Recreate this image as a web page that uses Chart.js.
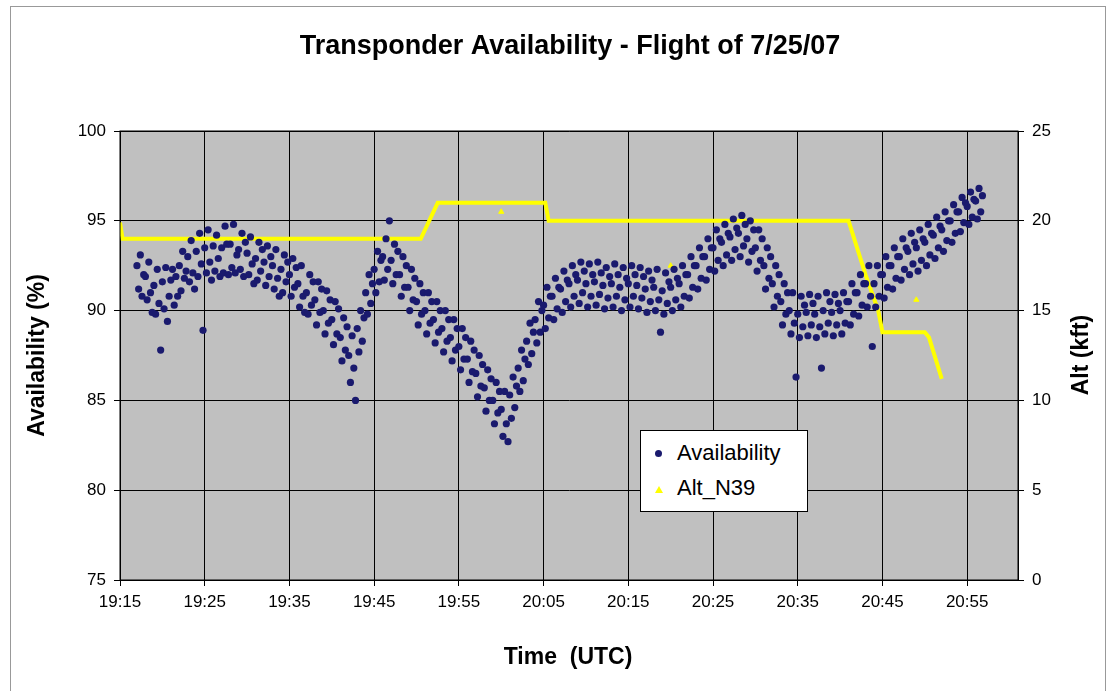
<!DOCTYPE html>
<html lang="en">
<head>
<meta charset="UTF-8">
<title>Transponder Availability</title>
<script src="https://cdn.jsdelivr.net/npm/chart.js@4.4.4/dist/chart.umd.min.js"></script>
<style>
  body { margin: 0; background: #fff; }
  .frame { position: relative; width: 1117px; height: 691px; }
  .frame:before { content: ''; position: absolute; left: 10px; top: 6px; right: 11px; bottom: 0; border: 1px solid #999; border-bottom: none; pointer-events: none; }
  .legend { position: absolute; left: 640px; top: 430px; width: 168px; height: 82px; background: #fff; border: 1px solid #000; box-sizing: border-box;
            font: 22px "Liberation Sans", Arial, sans-serif; color: #000; }
  .legend div { position: absolute; left: 36px; }
  .legend span { position: absolute; }
</style>
</head>
<body>
<div class="frame">
  <canvas id="chart" width="1117" height="691"></canvas>
  <div class="legend">
    <span style="left:14px;top:19px;width:7px;height:7px;border-radius:50%;background:#1a1a6e"></span>
    <div style="top:9px">Availability</div>
    <span style="left:14px;top:55px;width:0;height:0;border-left:4px solid transparent;border-right:4px solid transparent;border-bottom:7px solid #ffff00"></span>
    <div style="top:44px">Alt_N39</div>
  </div>
</div>
<script>
// minutes after 19:15 UTC
const TICK_LABELS = ['19:15', '19:25', '19:35', '19:45', '19:55', '20:05', '20:15', '20:25', '20:35', '20:45', '20:55'];

// availability samples: one row per minute, five samples within the minute
const availMinutes = [];
for (let m = 2; m <= 102; m++) availMinutes.push(m);
const availRows = [
  [92.5, 91.2, 93.1, 90.8, 92.0], [91.9, 90.6, 92.7, 91.0, 89.9], [91.4, 89.8, 92.3, 90.4, 87.8],
  [91.6, 90.1, 92.4, 89.4, 90.8], [91.7, 92.3, 90.3, 91.9, 90.8], [92.5, 91.1, 93.3, 91.8, 92.2],
  [93.0, 91.6, 93.9, 92.1, 91.2], [93.3, 91.9, 94.3, 92.6, 88.9], [93.5, 92.1, 94.5, 92.7, 91.7],
  [93.6, 92.2, 94.2, 92.9, 91.9], [93.5, 92.1, 94.7, 93.7, 92.0], [93.7, 92.4, 94.8, 92.1, 93.1],
  [93.4, 92.3, 94.3, 91.9, 93.8], [93.2, 92.0, 94.1, 92.6, 91.5], [92.9, 91.7, 93.8, 92.2, 93.4],
  [92.7, 91.4, 93.6, 91.9, 93.0], [92.5, 91.2, 93.4, 91.8, 90.8], [92.3, 91.0, 93.1, 91.6, 92.7],
  [92.0, 90.8, 92.9, 91.3, 92.4], [91.5, 90.2, 92.5, 90.8, 89.9], [91.0, 89.8, 92.0, 90.3, 91.6],
  [90.6, 89.2, 91.6, 89.9, 91.2], [90.0, 88.7, 91.1, 89.3, 90.6], [89.5, 88.1, 90.5, 88.7, 90.1],
  [88.5, 87.2, 89.6, 87.8, 89.1], [87.5, 86.0, 88.6, 86.8, 85.0], [89.0, 87.7, 90.0, 88.3, 89.6],
  [91.0, 89.8, 92.0, 90.4, 91.5], [92.3, 91.0, 93.3, 91.6, 92.8], [93.0, 91.7, 94.0, 92.3, 95.0],
  [92.8, 91.5, 93.7, 92.0, 93.3], [92.0, 90.8, 93.0, 91.3, 92.5], [91.3, 90.0, 92.3, 90.6, 91.8],
  [90.5, 89.2, 91.5, 89.8, 91.0], [90.0, 88.7, 91.0, 89.3, 90.5], [89.5, 88.2, 90.5, 88.8, 90.0],
  [89.0, 87.7, 90.0, 88.3, 89.5], [88.5, 87.2, 89.5, 87.8, 89.0], [88.0, 86.7, 89.0, 87.3, 88.5],
  [87.3, 86.0, 88.3, 86.6, 87.8], [86.5, 85.2, 87.5, 85.8, 87.0], [85.7, 84.4, 86.7, 85.0, 86.2],
  [85.0, 83.7, 86.0, 84.3, 85.5], [84.5, 83.0, 85.5, 83.7, 82.7], [85.3, 84.0, 86.3, 84.6, 85.8],
  [86.8, 85.5, 87.8, 86.1, 87.3], [88.3, 87.0, 89.3, 87.6, 88.8], [89.5, 88.2, 90.5, 88.8, 90.0],
  [90.3, 89.0, 91.3, 89.6, 90.8], [90.8, 89.5, 91.8, 90.1, 91.3], [91.2, 89.9, 92.2, 90.5, 91.7],
  [91.5, 90.2, 92.5, 90.8, 92.0], [91.7, 90.4, 92.7, 91.0, 92.2], [91.5, 90.2, 92.6, 90.8, 92.0],
  [91.6, 90.3, 92.7, 90.9, 92.1], [91.4, 90.1, 92.4, 90.7, 91.9], [91.5, 90.2, 92.6, 90.8, 92.0],
  [91.3, 90.0, 92.4, 90.6, 91.8], [91.5, 90.2, 92.5, 90.8, 92.0], [91.4, 90.1, 92.4, 90.7, 91.9],
  [91.2, 89.9, 92.2, 90.5, 91.7], [91.3, 90.0, 92.3, 90.6, 88.8], [91.1, 89.8, 92.1, 90.4, 91.6],
  [91.3, 90.0, 92.3, 90.6, 91.8], [91.5, 90.2, 92.5, 90.8, 92.0], [92.0, 90.7, 93.0, 91.3, 92.5],
  [92.5, 91.2, 93.5, 91.8, 93.0], [93.0, 91.7, 94.0, 92.3, 93.5], [93.5, 92.2, 94.5, 92.8, 94.0],
  [93.8, 92.5, 94.8, 93.1, 94.3], [94.1, 92.8, 95.1, 93.4, 94.6], [94.3, 93.0, 95.3, 93.6, 94.8],
  [94.0, 92.7, 95.0, 93.3, 94.5], [93.5, 92.2, 94.5, 92.8, 94.0], [92.5, 91.2, 93.5, 91.8, 93.0],
  [91.5, 90.2, 92.5, 90.8, 92.0], [90.5, 89.2, 91.5, 89.8, 91.0], [90.0, 88.7, 91.0, 89.3, 86.3],
  [89.8, 88.5, 90.8, 89.1, 90.3], [89.9, 88.6, 90.9, 89.2, 90.4], [89.8, 88.5, 90.8, 89.1, 86.8],
  [90.0, 88.7, 91.0, 89.3, 90.5], [89.9, 88.6, 90.9, 89.2, 90.4], [90.0, 88.7, 91.0, 89.3, 90.5],
  [90.5, 89.2, 91.5, 89.8, 91.0], [91.0, 89.7, 92.0, 90.3, 91.5], [91.5, 90.2, 92.5, 90.8, 88.0],
  [91.5, 90.2, 92.5, 90.8, 92.0], [92.0, 90.7, 93.0, 91.3, 92.5], [92.5, 91.2, 93.5, 91.8, 93.0],
  [93.0, 91.7, 94.0, 92.3, 93.5], [93.3, 92.0, 94.3, 92.6, 93.8], [93.5, 92.2, 94.5, 92.8, 94.0],
  [93.8, 92.5, 94.8, 93.1, 94.3], [94.2, 92.9, 95.2, 93.5, 94.7], [94.5, 93.3, 95.5, 93.9, 95.0],
  [95.0, 93.8, 95.9, 94.3, 95.5], [95.5, 94.4, 96.3, 94.9, 96.0], [95.8, 94.8, 96.6, 95.2, 96.2],
  [96.1, 95.1, 96.8, 95.5, 96.4]
];

// Alt_N39 flight profile (minutes after 19:15, kft)
const altMinutes = [0, 0.3, 35.5, 37.5, 50.2, 50.6, 86, 88, 89.5, 90, 95, 95.5, 97];
const altValues  = [19.9, 19, 19, 21, 21, 20, 20, 17, 15, 13.8, 13.8, 13.5, 11.2];
const altStrayMinutes = [45, 65, 94];
const altStrayValues  = [20.5, 17.5, 15.6];

const availPoints = [];
availRows.forEach((row, i) => {
    row.forEach((v, k) => availPoints.push({ x: availMinutes[i] + k / 5, y: v }));
});

const plotBackground = {
    id: 'plotBackground',
    beforeDraw(chart) {
        const { ctx, chartArea: a } = chart;
        ctx.save();
        ctx.fillStyle = '#c0c0c0';
        ctx.fillRect(a.left, a.top, a.right - a.left, a.bottom - a.top);
        ctx.restore();
    },
    afterDraw(chart) {
        const { ctx, chartArea: a } = chart;
        ctx.save();
        ctx.strokeStyle = '#000';
        ctx.lineWidth = 1;
        ctx.strokeRect(a.left, a.top, a.right - a.left, a.bottom - a.top);
        ctx.fillStyle = '#000';
        ctx.textAlign = 'center';
        ctx.textBaseline = 'middle';
        ctx.font = 'bold 27px "Liberation Sans", Arial, sans-serif';
        ctx.fillText('Transponder Availability - Flight of 7/25/07', 570, 47);
        ctx.font = 'bold 23px "Liberation Sans", Arial, sans-serif';
        ctx.fillText('Time  (UTC)', 568, 658);
        // right axis title reads bottom-to-top like the left one
        ctx.translate(1082, 355);
        ctx.rotate(-Math.PI / 2);
        ctx.fillText('Alt (kft)', 0, 0);
        ctx.restore();
    },
};

const tickFont = { family: '"Liberation Sans", Arial, sans-serif', size: 17 };
const titleFont = { family: '"Liberation Sans", Arial, sans-serif', size: 23, weight: 'bold' };
const gridStyle = { color: '#000', lineWidth: 1, tickLength: 6, tickColor: '#000' };

new Chart(document.getElementById('chart'), {
    type: 'scatter',
    data: {
        datasets: [
            {
                label: 'Alt_N39',
                data: altMinutes.map((m, i) => ({ x: m, y: altValues[i] })),
                yAxisID: 'y2',
                showLine: true,
                borderColor: '#ffff00',
                borderWidth: 4,
                pointRadius: 0,
                order: 2,
            },
            {
                label: 'Alt_N39 stray',
                data: altStrayMinutes.map((m, i) => ({ x: m, y: altStrayValues[i] })),
                yAxisID: 'y2',
                pointStyle: 'triangle',
                pointRadius: 3,
                backgroundColor: '#ffff00',
                borderColor: '#ffff00',
                order: 2,
            },
            {
                label: 'Availability',
                data: availPoints,
                yAxisID: 'y',
                pointRadius: 3.6,
                backgroundColor: '#1a1a6e',
                borderColor: '#1a1a6e',
                borderWidth: 0,
                order: 1,
            },
        ],
    },
    options: {
        responsive: false,
        animation: false,
        layout: { padding: { top: 131, left: 20, right: 20, bottom: 0 } },
        plugins: { legend: { display: false }, tooltip: { enabled: false } },
        scales: {
            x: {
                type: 'linear', min: 0, max: 106,
                afterFit(s) { s.height = 111; },
                afterBuildTicks(s) { s.ticks = TICK_LABELS.map((_, i) => ({ value: i * 10 })); },
                ticks: { color: '#000', font: tickFont, padding: 6, callback: (v) => TICK_LABELS[v / 10] },
                grid: gridStyle,
                border: { color: '#000' },
            },
            y: {
                position: 'left', min: 75, max: 100,
                afterFit(s) { s.width = 100; },
                ticks: { stepSize: 5, color: '#000', font: tickFont, padding: 8 },
                grid: gridStyle,
                border: { color: '#000' },
                title: { display: true, text: 'Availability (%)', color: '#000', font: titleFont, padding: { bottom: 10 } },
            },
            y2: {
                position: 'right', min: 0, max: 25,
                afterFit(s) { s.width = 79; },
                ticks: { stepSize: 5, color: '#000', font: tickFont, padding: 8 },
                grid: { drawOnChartArea: false, tickLength: 6, tickColor: '#000' },
                border: { color: '#000' },
            },
        },
    },
    plugins: [plotBackground],
});
</script>
</body>
</html>
